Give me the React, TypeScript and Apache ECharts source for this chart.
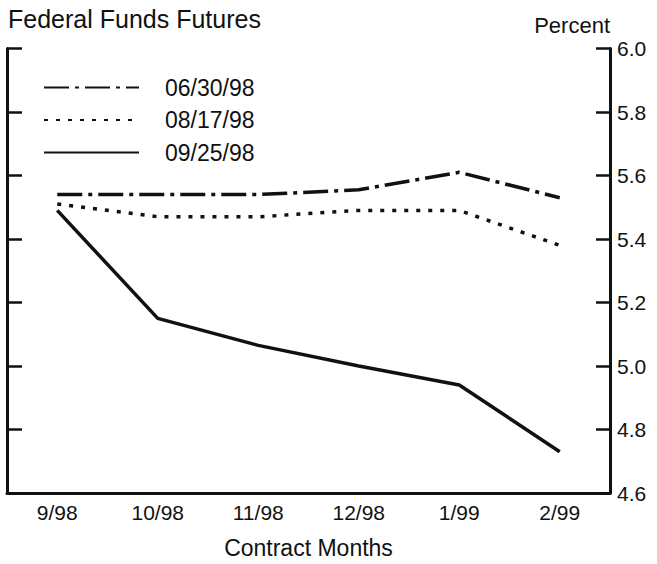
import React, { useEffect, useRef } from "react";
import * as echarts from "echarts";

const categories = ["9/98", "10/98", "11/98", "12/98", "1/99", "2/99"];
const seriesNames = ["06/30/98", "08/17/98", "09/25/98"];
const june30 = [5.54, 5.54, 5.54, 5.555, 5.61, 5.53];
const aug17 = [5.51, 5.47, 5.47, 5.49, 5.49, 5.38];
const sep25 = [5.49, 5.15, 5.065, 5.0, 4.94, 4.73];
const yMin = 4.6;
const yMax = 6.0;
const yStep = 0.2;

const FONT = "'Liberation Sans', Arial, Helvetica, sans-serif";
const INK = "#111";

export default function App() {
  const ref = useRef<HTMLDivElement>(null);
  useEffect(() => {
    if (!ref.current) return;
    const chart = echarts.init(ref.current, null, { renderer: "svg" });
    chart.setOption({
      animation: false,
      backgroundColor: "#fff",
      textStyle: { fontFamily: FONT, color: INK },
      title: {
        text: "Federal Funds Futures",
        left: 3,
        top: 1,
        textStyle: { fontFamily: FONT, fontSize: 25, fontWeight: "normal", color: INK },
      },
      legend: {
        orient: "vertical",
        left: 38,
        top: 71,
        itemWidth: 95,
        itemHeight: 20,
        itemGap: 9.5,
        data: seriesNames,
        itemStyle: { opacity: 0 },
        textStyle: { fontFamily: FONT, fontSize: 23, color: INK, padding: [0, 0, 0, 21] },
      },
      grid: { left: 7, right: 47, top: 48.5, bottom: 58, containLabel: false },
      xAxis: {
        type: "category",
        data: categories,
        boundaryGap: true,
        name: "Contract Months",
        nameLocation: "middle",
        nameGap: 43,
        nameTextStyle: { fontFamily: FONT, fontSize: 23, color: INK },
        axisLine: { lineStyle: { color: INK, width: 3 } },
        axisTick: { inside: true, length: 14, lineStyle: { color: INK, width: 2.5 } },
        axisLabel: { fontFamily: FONT, fontSize: 21, color: INK, margin: 9 },
        splitLine: { show: false },
      },
      yAxis: [
        {
          type: "value",
          position: "right",
          min: yMin,
          max: yMax,
          interval: yStep,
          name: "Percent",
          nameLocation: "end",
          nameGap: 23,
          nameTextStyle: { fontFamily: FONT, fontSize: 22, color: INK, align: "right", verticalAlign: "middle" },
          axisLine: { show: true, lineStyle: { color: INK, width: 3 } },
          axisTick: { show: true, inside: true, length: 14, lineStyle: { color: INK, width: 2.5 } },
          axisLabel: {
            fontFamily: FONT,
            fontSize: 21,
            color: INK,
            margin: 7,
            formatter: (v: number) => v.toFixed(1),
          },
          splitLine: { show: false },
        },
        {
          type: "value",
          position: "left",
          min: yMin,
          max: yMax,
          interval: yStep,
          axisLine: { show: true, lineStyle: { color: INK, width: 3 } },
          axisTick: { show: true, inside: true, length: 15, lineStyle: { color: INK, width: 2.5 } },
          axisLabel: { show: false },
          splitLine: { show: false },
        },
      ],
      series: [
        {
          name: seriesNames[0],
          type: "line",
          data: june30,
          symbol: "none",
          color: INK,
          lineStyle: { color: INK, width: 3.5, type: [25, 6, 4, 6] },
        },
        {
          name: seriesNames[1],
          type: "line",
          data: aug17,
          symbol: "none",
          color: INK,
          lineStyle: { color: INK, width: 3.5, type: [4, 8] },
        },
        {
          name: seriesNames[2],
          type: "line",
          data: sep25,
          symbol: "none",
          color: INK,
          lineStyle: { color: INK, width: 3.5, type: "solid" },
        },
      ],
    });
    return () => chart.dispose();
  }, []);
  return (
    <div
      ref={ref}
      style={{ position: "fixed", left: 0, top: 0, width: 657, height: 564, background: "#fff" }}
    />
  );
}
